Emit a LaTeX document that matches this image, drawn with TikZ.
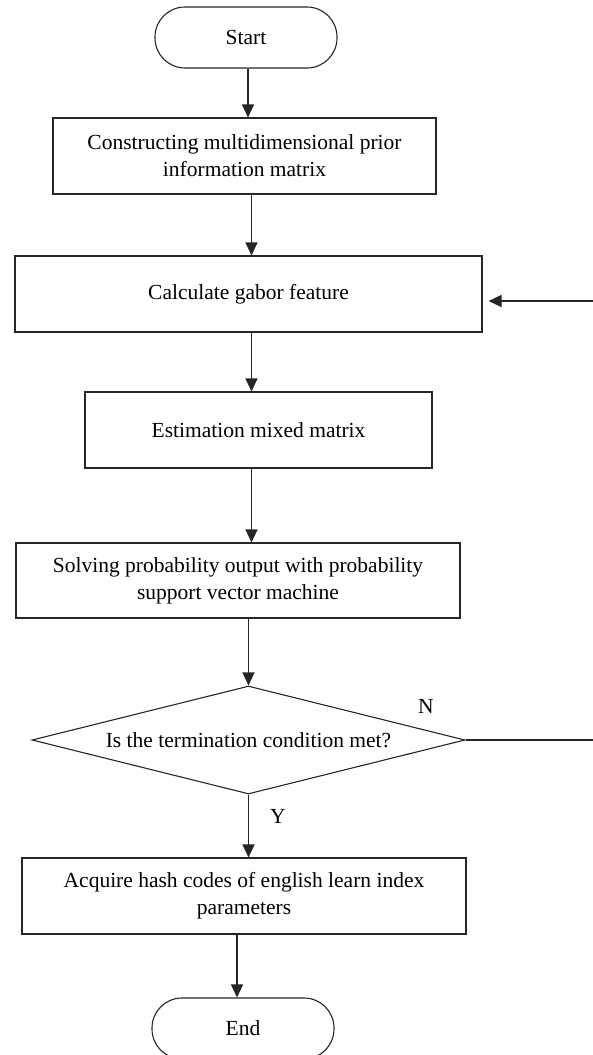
\documentclass[tikz,border=0pt]{standalone}
\usepackage{fontspec}
\setmainfont{Liberation Serif}
\usetikzlibrary{arrows.meta,shapes.geometric}

\begin{document}
\begin{tikzpicture}[x=1pt,y=-1pt,
  font=\fontsize{21.5}{27}\selectfont,
  line width=1.1pt,
  linecol/.style={draw=black!85},
  procbox/.style={linecol,rectangle,align=center,inner sep=0pt},
  terminal/.style={linecol,rectangle,rounded corners=30pt,minimum width=182pt,minimum height=61pt,inner sep=0pt},
  decision/.style={linecol,diamond,aspect=4,inner sep=0pt,minimum width=433pt,minimum height=108pt},
  arr/.style={linecol,-{Triangle[length=13pt,width=12pt]}},
  lbl/.style={inner sep=0pt}]

\clip (0,0) rectangle (593,1055);
\fill[white] (0,0) rectangle (593,1055);

% flow steps
\node[terminal] (start) at (246,37.5) {Start};
\node[procbox,minimum width=383pt,minimum height=76pt] (b1) at (244.5,156)
  {Constructing multidimensional prior\\information matrix};
\node[procbox,minimum width=467pt,minimum height=76pt] (b2) at (248.5,294)
  {Calculate gabor feature};
\node[procbox,minimum width=347pt,minimum height=76pt] (b3) at (258.5,430)
  {Estimation mixed matrix};
\node[procbox,minimum width=444pt,minimum height=75pt] (b4) at (238,580.5)
  {Solving probability output with probability\\support vector machine};
\node[decision] (dec) at (248.5,740) {Is the termination condition met?};
\node[procbox,minimum width=444pt,minimum height=76pt] (b5) at (244,896)
  {Acquire hash codes of english learn index\\parameters};
\node[terminal] (end) at (243,1028.5) {End};

% columns the vertical connectors run along
\coordinate (colA) at (248,0);
\coordinate (colB) at (251.5,0);
\coordinate (colC) at (248.5,0);
\coordinate (colD) at (237,0);
% free ends of the loop back
\coordinate (nOut) at (593,740);
\coordinate (loopIn) at (593,301);

% connectors
\draw[arr] (start.south -| colA) -- (b1.north -| colA);
\draw[arr] (b1.south -| colB) -- (b2.north -| colB);
\draw[arr] (b2.south -| colB) -- (b3.north -| colB);
\draw[arr] (b3.south -| colB) -- (b4.north -| colB);
\draw[arr] (b4.south -| colC) -- (dec.north);
\draw[arr] (dec.south) -- (b5.north -| colC);
\draw[arr] (b5.south -| colD) -- (end.north -| colD);
\draw[linecol] (dec.east) -- (nOut);
\draw[arr,shorten >=6pt] (loopIn) -- (loopIn -| b2.east);

% branch labels
\node[lbl] (nlab) at (426,706) {N};
\node[lbl] (ylab) at (278,816) {Y};
\end{tikzpicture}
\end{document}
